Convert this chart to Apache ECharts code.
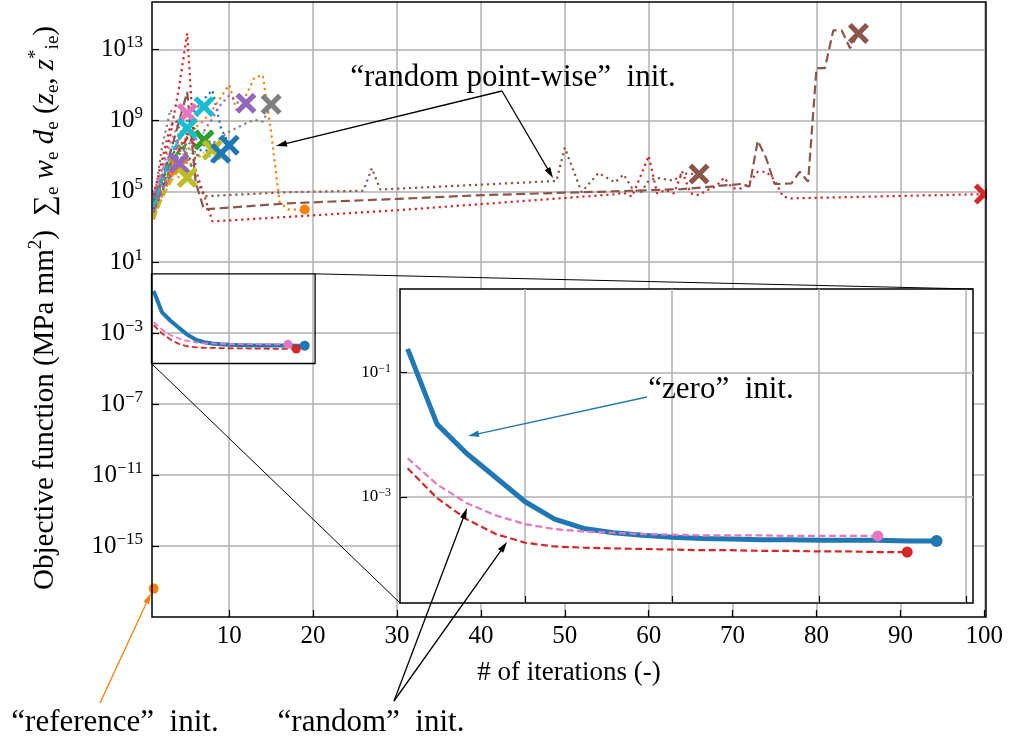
<!DOCTYPE html>
<html><head><meta charset="utf-8">
<script src="https://cdn.jsdelivr.net/npm/echarts@6/dist/echarts.min.js"></script>
<style>html,body{margin:0;padding:0;background:#fff}#c{width:1009px;height:745px}</style>
</head><body><div id="c"></div>
<script>
// ---------- data (y values are log10 of the objective function) ----------
const xTicksMain = [10,20,30,40,50,60,70,80,90,100];
const yTicksMain = [-15,-11,-7,-3,1,5,9,13];
const xTicksInset = [5,10,15,20];
const yTicksInset = [-3,-1];

const zeroIters = [1,2,3,4,5,6,7,8,9,10,11,12,13,14,15,16,17,18,19];
const zeroLog10 = [-0.62,-1.83,-2.30,-2.69,-3.08,-3.36,-3.51,-3.58,-3.62,-3.65,-3.67,-3.68,-3.69,-3.69,-3.70,-3.70,-3.70,-3.71,-3.71];
const randPinkIters = [1,2,3,4,5,6,7,8,9,10,11,12,13,14,15,16,17];
const randPinkLog10 = [-2.38,-2.80,-3.10,-3.30,-3.44,-3.52,-3.56,-3.58,-3.60,-3.61,-3.62,-3.62,-3.62,-3.63,-3.63,-3.63,-3.63];
const randRedIters = [1,2,3,4,5,6,7,8,9,10,11,12,13,14,15,16,17,18];
const randRedLog10 = [-2.54,-3.02,-3.36,-3.60,-3.74,-3.80,-3.82,-3.83,-3.84,-3.85,-3.86,-3.86,-3.87,-3.87,-3.88,-3.88,-3.89,-3.89];
const referenceIters = [1];
const referenceLog10 = [-17.4];

// "random point-wise" runs: [iteration, log10 objective]
const pwBlueDot   = [[1,4.2],[2,5.6],[3,6.8],[4,7.9],[5,9.0],[6,9.6],[7,10.2],[8,10.7],[9,8.6],[10,7.6]];
const pwOrangeDot = [[1,3.5],[2,5.0],[3,6.3],[4,7.4],[5,8.1],[6,8.6],[7,9.0],[8,9.6],[9,10.3],[10,11.0],[11,9.4],[12,10.4],[13,11.4],[14,11.55],[15,8.3],[16,4.4],[17,3.98],[18,3.97],[19,3.97]];
const pwGreenDot  = [[1,4.0],[2,5.3],[3,6.2],[4,7.0],[5,8.1],[6,8.6],[7,7.89]];
const pwRedDot    = [[1,4.5],[2,6.3],[3,8.2],[4,10.8],[5,13.9],[6,6.2],[7,4.8],[8,3.3],[30,3.93],[56,4.83],[57,4.92],[58,4.7],[59,5.82],[60,7.0],[61,4.88],[62,5.07],[63,4.88],[64,6.1],[65,4.88],[66,4.79],[67,5.07],[68,5.26],[69,5.77],[70,5.16],[71,5.16],[72,5.5],[73,6.1],[74,6.1],[75,5.63],[76,4.7],[77,4.6],[100,4.84]];
const pwPurpleDot = [[1,4.2],[2,5.0],[3,5.9],[4,6.7],[5,7.3],[6,7.9],[7,8.4],[8,9.1],[9,9.9],[10,10.4],[11,10.0],[12,9.96]];
const pwBrownDot  = [[1,4.7],[2,5.6],[3,6.5],[4,8.1],[5,7.0],[6,5.8],[7,4.72],[17,4.95],[26,5.03],[27,6.3],[28,5.1],[49,5.58],[50,7.46],[52,4.95],[54,6.03],[56,5.5],[57,5.95],[58,5.2],[59,4.9],[60,5.6],[61,5.75],[63,5.6],[64,6.0],[66,5.97]];
const pwPinkDot   = [[1,4.8],[2,6.1],[3,7.7],[4,8.9],[5,9.39]];
const pwGrayDot   = [[1,4.3],[2,7.5],[3,9.6],[4,8.6],[5,8.2],[6,8.3],[7,8.0],[8,7.7],[9,8.0],[10,8.36],[11,8.6],[12,8.83],[13,9.02],[14,8.92],[15,9.9]];
const pwOliveDot  = [[1,3.7],[2,4.8],[3,5.7],[4,6.6],[5,7.5],[6,7.1],[7,6.8],[8,7.33]];
const pwCyanDot   = [[1,4.6],[2,5.9],[3,7.3],[4,8.2],[5,8.9],[6,9.4],[7,9.77]];
const pwBlueDash  = [[1,3.8],[2,5.0],[3,5.9],[4,6.4],[5,6.0],[6,6.9],[7,7.6],[8,6.6],[9,7.14]];
const pwOrangeDash= [[1,3.4],[2,4.7],[3,5.8],[4,6.4]];
const pwPurpleDash= [[1,3.9],[2,5.1],[3,5.8],[4,6.58]];
const pwBrownDash = [[1,4.0],[2,5.6],[3,7.2],[4,8.9],[5,10.6],[6,5.5],[7,3.98],[17,4.32],[30,4.57],[40,4.78],[56,5.0],[64,5.12],[71,5.41],[72,5.26],[73,7.85],[74,6.86],[75,5.41],[77,5.44],[78,6.1],[79,5.54],[80,11.94],[81,11.94],[82,14.07],[83,14.07],[84,13.06],[85,13.9]];
const pwOliveDash = [[1,3.5],[2,4.6],[3,5.5],[4,6.2],[5,5.77]];
const pwCyanDash  = [[1,4.1],[2,5.6],[3,7.0],[4,7.9],[5,8.55]];
// further short runs inside the dense cluster (end under other markers)
const pwRedDash2   = [[1,4.0],[2,5.2],[3,6.0],[4,7.3],[5,8.0],[6,7.6]];
const pwGreenDash2 = [[1,4.4],[2,5.7],[3,6.6],[4,7.3],[5,7.7],[6,8.1],[7,7.9]];
const pwPinkDash2  = [[1,4.9],[2,6.2],[3,7.0],[4,7.9],[5,8.6]];
const pwGrayDash2  = [[1,4.2],[2,5.8],[3,6.9],[4,7.6],[5,7.1]];
const pwOrangeDot2 = [[1,3.6],[2,5.3],[3,6.0],[4,5.8],[5,6.3],[6,6.9],[7,7.2]];
const pwBlueDot2   = [[1,4.5],[2,5.4],[3,6.3],[4,7.0],[5,6.6],[6,7.4],[7,8.0],[8,8.4]];
const pwPurpleDot2 = [[1,4.6],[2,5.9],[3,6.4],[4,7.2],[5,7.6],[6,8.0],[7,8.3]];
const pwRedDot2    = [[1,4.8],[2,6.8],[3,8.7],[4,9.0],[5,8.2],[6,9.1]];

// ---------- styling ----------
const FONT = 'Liberation Serif';
const C = {blue:'#1f77b4',orange:'#ff7f0e',green:'#2ca02c',red:'#d62728',purple:'#9467bd',brown:'#8c564b',pink:'#e377c2',gray:'#7f7f7f',olive:'#bcbd22',cyan:'#17becf'};
const XSYM = 'path://M0,3.5L3.5,0L10,6.5L16.5,0L20,3.5L13.5,10L20,16.5L16.5,20L10,13.5L3.5,20L0,16.5L6.5,10Z';
const DOT = [2.2, 3.8], DASH = [8, 4];

function pw(pts, color, dash, end) {
  return {
    type:'line', xAxisIndex:0, yAxisIndex:0, z:2, symbol:'none', silent:true,
    lineStyle:{color:color, width:2.2, type:dash},
    itemStyle:{color:color},
    data: pts.map((p,i) => i === pts.length-1 && end ?
      {value:p, symbol: end === 'x' ? XSYM : 'circle', symbolSize: end === 'x' ? 21 : 10, itemStyle:{color:color}} : p)
  };
}
function conv(iters, vals, color, width, dash, endSize, gi, z) {
  return {
    type:'line', xAxisIndex:gi, yAxisIndex:gi, z:z, symbol:'none', silent:true,
    lineStyle:{color:color, width:width, type:dash},
    itemStyle:{color:color},
    data: iters.map((x,i) => i === iters.length-1 ?
      {value:[x, vals[i]], symbol:'circle', symbolSize:endSize, itemStyle:{color:color}} : [x, vals[i]])
  };
}
const sup = v => '{b|10}{s|' + String(v).replace('-', '\u2212') + '}';

const chart = echarts.init(document.getElementById('c'), null, {renderer:'canvas'});
const grayLine = {show:true, lineStyle:{color:'#b0b0b0', width:1.5}};
const option = {
  animation:false,
  backgroundColor:'#fff',
  grid:[
    {left:152, top:2, right:23, bottom:128, show:false},
    {left:400, top:289, width:573, height:314, show:true, backgroundColor:'#fff', borderColor:'#000', borderWidth:1.5, z:5}
  ],
  xAxis:[
    {type:'value', gridIndex:0, min:0.8, max:100.2,
     axisLine:{show:false, onZero:false},
     axisTick:{show:true, inside:true, length:7, customValues:xTicksMain, lineStyle:{color:'#000', width:1.2}},
     axisLabel:{customValues:xTicksMain, fontFamily:FONT, fontSize:25, color:'#000', margin:7},
     splitLine:grayLine},
    {type:'value', gridIndex:1, min:0.74, max:20.24, z:6,
     axisLine:{show:false, onZero:false},
     axisTick:{show:true, inside:true, length:7, customValues:xTicksInset, lineStyle:{color:'#000', width:1.2}},
     axisLabel:{show:false, customValues:xTicksInset},
     splitLine:grayLine}
  ],
  yAxis:[
    {type:'value', gridIndex:0, min:-19, max:15.67,
     axisLine:{show:false, onZero:false},
     axisTick:{show:true, inside:true, length:7, customValues:yTicksMain, lineStyle:{color:'#000', width:1.2}},
     axisLabel:{customValues:yTicksMain, margin:9, formatter:v => sup(v),
       rich:{b:{fontFamily:FONT, fontSize:25, color:'#000', lineHeight:30},
             s:{fontFamily:FONT, fontSize:17, color:'#000', lineHeight:17, verticalAlign:'top'}}},
     splitLine:grayLine},
    {type:'value', gridIndex:1, min:-4.71, max:0.345, z:6,
     axisLine:{show:false, onZero:false},
     axisTick:{show:true, inside:true, length:7, customValues:yTicksInset, lineStyle:{color:'#000', width:1.2}},
     axisLabel:{customValues:yTicksInset, margin:9, formatter:v => sup(v),
       rich:{b:{fontFamily:FONT, fontSize:17, color:'#000', lineHeight:20},
             s:{fontFamily:FONT, fontSize:12, color:'#000', lineHeight:12, verticalAlign:'top'}}},
     splitLine:grayLine}
  ],
  series:[
    pw(pwBlueDot, C.blue, DOT, 'x'),
    pw(pwOrangeDot, C.orange, DOT, 'o'),
    pw(pwGreenDot, C.green, DOT, 'x'),
    pw(pwRedDot, C.red, DOT, 'x'),
    pw(pwPurpleDot, C.purple, DOT, 'x'),
    pw(pwBrownDot, C.brown, DOT, 'x'),
    pw(pwPinkDot, C.pink, DOT, 'x'),
    pw(pwGrayDot, C.gray, DOT, 'x'),
    pw(pwOliveDot, C.olive, DOT, 'x'),
    pw(pwCyanDot, C.cyan, DOT, 'x'),
    pw(pwBlueDash, C.blue, DOT, 'x'),
    pw(pwOrangeDash, C.orange, DASH, 'x'),
    pw(pwRedDash2, C.red, DASH, null),
    pw(pwGreenDash2, C.green, DASH, null),
    pw(pwPinkDash2, C.pink, DASH, null),
    pw(pwGrayDash2, C.gray, DASH, null),
    pw(pwOrangeDot2, C.orange, DOT, null),
    pw(pwBlueDot2, C.blue, DOT, null),
    pw(pwPurpleDot2, C.purple, DOT, null),
    pw(pwRedDot2, C.red, DOT, null),
    pw(pwPurpleDash, C.purple, DASH, 'x'),
    pw(pwBrownDash, C.brown, [9,4.5], 'x'),
    pw(pwOliveDash, C.olive, DASH, 'x'),
    pw(pwCyanDash, C.cyan, DASH, 'x'),
    conv(zeroIters, zeroLog10, C.blue, 4, 'solid', 10, 0, 3),
    conv(randPinkIters, randPinkLog10, C.pink, 1.8, [6,3], 9, 0, 3),
    conv(randRedIters, randRedLog10, C.red, 1.8, [6,3], 9, 0, 3),
    conv(referenceIters, referenceLog10, C.orange, 2, 'solid', 10, 0, 3),
    conv(zeroIters, zeroLog10, C.blue, 5, 'solid', 12, 1, 7),
    conv(randPinkIters, randPinkLog10, C.pink, 2.2, [7,3.5], 11, 1, 7),
    conv(randRedIters, randRedLog10, C.red, 2.2, [7,3.5], 11, 1, 7)
  ]
};
chart.setOption(option);

// ---------- frame, inset indicator, annotations ----------
const P = (gi, x, y) => chart.convertToPixel({gridIndex:gi}, [x, y]);
const mTL = P(0, 0.8, 15.67), mBR = P(0, 100.2, -19);
const rTL = P(0, 0.74, 0.345), rBR = P(0, 20.24, -4.71);
const iTL = P(1, 0.74, 0.345), iBR = P(1, 20.24, -4.71);

function arrow(x1, y1, x2, y2, color) {
  const dx = x2-x1, dy = y2-y1, L = Math.hypot(dx, dy), ux = dx/L, uy = dy/L;
  const hl = 11, hw = 3.2, bx = x2-ux*hl, by = y2-uy*hl;
  return [
    {type:'line', z:50, shape:{x1:x1, y1:y1, x2:bx+ux*2, y2:by+uy*2}, style:{stroke:color, lineWidth:1.3}},
    {type:'polygon', z:50, shape:{points:[[x2,y2],[bx-uy*hw, by+ux*hw],[bx+uy*hw, by-ux*hw]]}, style:{fill:color}}
  ];
}
const txt = (x, y, s, size) => ({type:'text', z:50, x:x, y:y,
  style:{text:s, fontFamily:FONT, fontSize:size, fill:'#000', align:'center', verticalAlign:'middle'}});

const g = [
  {type:'rect', z:40, shape:{x:mBR[0]+1, y:0, width:1009-mBR[0], height:mBR[1]}, style:{fill:'#fff'}},
  {type:'rect', z:45, shape:{x:mTL[0], y:mTL[1], width:mBR[0]-mTL[0], height:mBR[1]-mTL[1]}, style:{fill:null, stroke:'#000', lineWidth:1.5}},
  {type:'rect', z:45, shape:{x:rTL[0], y:rTL[1], width:rBR[0]-rTL[0], height:rBR[1]-rTL[1]}, style:{fill:null, stroke:'#000', lineWidth:1.3}},
  {type:'line', z:45, shape:{x1:rBR[0], y1:rTL[1], x2:iBR[0], y2:iTL[1]}, style:{stroke:'#000', lineWidth:1}},
  {type:'line', z:45, shape:{x1:rTL[0], y1:rBR[1], x2:iTL[0], y2:iBR[1]}, style:{stroke:'#000', lineWidth:1}},
  txt(513, 78, '\u201crandom point-wise\u201d  init.', 31),
  txt(721, 390, '\u201czero\u201d  init.', 31),
  txt(115, 723, '\u201creference\u201d  init.', 31),
  txt(371, 723, '\u201crandom\u201d  init.', 31),
  txt(569, 673, '# of iterations (-)', 27),
  {type:'text', z:50, x:45, y:308, rotation:Math.PI/2,
   style:{text:'{r|Objective function (MPa mm}{p|2}{r|)  \u2211}{d|e}{r| }{i|w}{d|e}{r| }{i|d}{d|e}{r| (}{i|z}{d|e}{r|, }{i|z}{p|*}{d|ie}{r|)}',
     align:'center', verticalAlign:'middle',
     rich:{r:{fontFamily:FONT, fontSize:29, fill:'#000', lineHeight:36},
           i:{fontFamily:FONT, fontStyle:'italic', fontSize:29, fill:'#000', lineHeight:36},
           p:{fontFamily:FONT, fontSize:19, fill:'#000', lineHeight:19, verticalAlign:'top'},
           d:{fontFamily:FONT, fontSize:19, fill:'#000', lineHeight:19, verticalAlign:'bottom'}}}}
].concat(
  arrow(502, 91, 276, 146, '#000'),
  arrow(502, 91, 553, 178, '#000'),
  arrow(647, 397, 468, 436, C.blue),
  arrow(394, 701, 467, 508, '#000'),
  arrow(394, 701, 507, 542, '#000'),
  arrow(100, 703, 151, 593, C.orange)
);
chart.setOption({graphic:g});
</script></body></html>
